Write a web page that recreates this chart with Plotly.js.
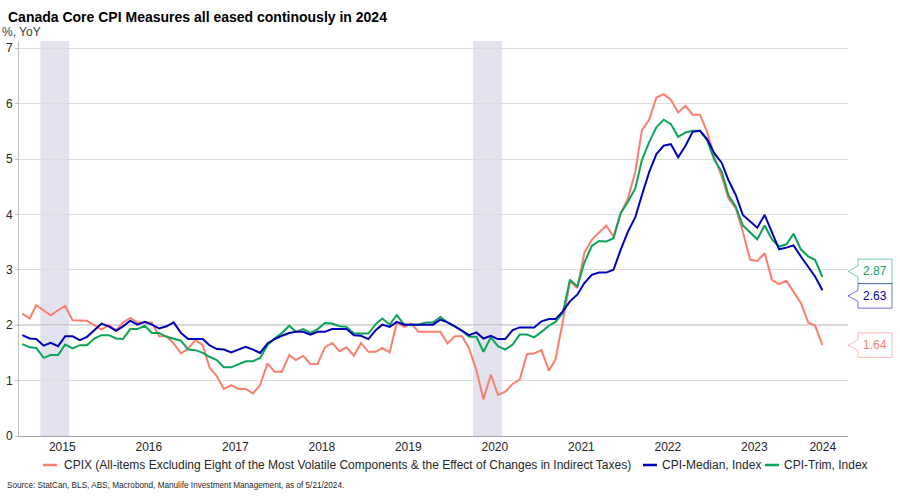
<!DOCTYPE html>
<html><head><meta charset="utf-8">
<script src="https://cdn.plot.ly/plotly-3.0.1.min.js"></script>
<style>html,body{margin:0;padding:0;background:#fff}#chart{width:900px;height:500px}</style>
</head><body><div id="chart"></div>
<script>
// ---- Data (monthly, Jan 2015 – Apr 2024, % YoY) ----
const startYear = 2015;
const startMonth = 1;

const cpix = [
  2.21, 2.12, 2.36, 2.27, 2.18, 2.27, 2.35, 2.09, 2.09, 2.08, 2.00, 1.92,
  2.00, 1.91, 2.05, 2.13, 2.05, 2.05, 2.05, 1.80, 1.80, 1.67, 1.49, 1.58,
  1.73, 1.64, 1.24, 1.08, 0.85, 0.92, 0.85, 0.85, 0.77, 0.92, 1.31, 1.16,
  1.16, 1.46, 1.37, 1.45, 1.30, 1.30, 1.60, 1.68, 1.53, 1.60, 1.45, 1.68,
  1.52, 1.52, 1.59, 1.51, 2.05, 1.97, 2.03, 1.88, 1.88, 1.88, 1.88, 1.67,
  1.80, 1.80, 1.58, 1.19, 0.66, 1.11, 0.74, 0.80, 0.94, 1.02, 1.48, 1.49,
  1.55, 1.18, 1.38, 2.07, 2.79, 2.67, 3.31, 3.54, 3.67, 3.80, 3.60, 4.02,
  4.29, 4.77, 5.52, 5.71, 6.11, 6.17, 6.07, 5.84, 5.96, 5.80, 5.80, 5.49,
  5.04, 4.68, 4.29, 4.11, 3.69, 3.18, 3.16, 3.30, 2.82, 2.74, 2.80, 2.61,
  2.40, 2.05, 1.99, 1.64
];
const cpiMedian = [
  1.82, 1.76, 1.75, 1.63, 1.68, 1.62, 1.80, 1.80, 1.73, 1.79, 1.91, 2.03,
  1.98, 1.90, 1.98, 2.08, 2.01, 2.06, 2.01, 1.94, 1.98, 2.05, 1.86, 1.75,
  1.75, 1.75, 1.64, 1.57, 1.56, 1.51, 1.56, 1.61, 1.56, 1.50, 1.67, 1.75,
  1.81, 1.86, 1.88, 1.88, 1.83, 1.88, 1.88, 1.93, 1.93, 1.93, 1.82, 1.81,
  1.75, 1.91, 2.01, 1.97, 2.06, 2.01, 2.01, 2.01, 2.01, 2.01, 2.10, 2.05,
  1.98, 1.90, 1.82, 1.87, 1.76, 1.81, 1.75, 1.75, 1.91, 1.96, 1.96, 1.96,
  2.07, 2.11, 2.11, 2.25, 2.43, 2.55, 2.76, 2.91, 2.95, 2.95, 3.00, 3.36,
  3.69, 3.95, 4.35, 4.77, 5.09, 5.24, 5.27, 5.03, 5.24, 5.49, 5.51, 5.36,
  5.10, 4.93, 4.62, 4.35, 3.99, 3.87, 3.76, 3.99, 3.69, 3.37, 3.40, 3.44,
  3.24, 3.06, 2.88, 2.63
];
const cpiTrim = [
  1.66, 1.60, 1.59, 1.41, 1.46, 1.46, 1.65, 1.58, 1.64, 1.64, 1.76, 1.82,
  1.82, 1.76, 1.75, 1.93, 1.93, 1.99, 1.86, 1.86, 1.79, 1.76, 1.72, 1.56,
  1.55, 1.50, 1.43, 1.37, 1.24, 1.24, 1.30, 1.35, 1.35, 1.41, 1.64, 1.76,
  1.86, 1.99, 1.88, 1.93, 1.86, 1.93, 2.04, 2.03, 1.98, 1.97, 1.85, 1.85,
  1.85, 2.02, 2.12, 2.01, 2.18, 2.01, 2.01, 2.01, 2.05, 2.05, 2.15, 2.05,
  1.98, 1.90, 1.79, 1.79, 1.52, 1.78, 1.62, 1.56, 1.65, 1.83, 1.83, 1.78,
  1.88, 1.99, 2.06, 2.22, 2.82, 2.70, 3.13, 3.43, 3.52, 3.51, 3.57, 4.02,
  4.23, 4.47, 4.98, 5.31, 5.57, 5.71, 5.63, 5.40, 5.48, 5.51, 5.51, 5.34,
  4.98, 4.77, 4.35, 4.14, 3.80, 3.67, 3.55, 3.80, 3.55, 3.42, 3.46, 3.65,
  3.37, 3.24, 3.18, 2.87
];

const seriesNames = [
  'CPIX (All-items Excluding Eight of the Most Volatile Components & the Effect of Changes in Indirect Taxes)',
  'CPI-Median, Index',
  'CPI-Trim, Index'
];
const yearLabels = ['2015','2016','2017','2018','2019','2020','2021','2022','2023','2024'];
const shadedPeriods = [['2015-04-01','2015-08-01'], ['2020-04-01','2020-08-01']];
const yTickValues = [0, 1, 2, 3, 4, 5, 6, 7];
const referenceLevel = 2;

const titleText = 'Canada Core CPI Measures all eased continously in 2024';
const unitText = '%, YoY';
const sourceText = 'Source: StatCan, BLS, ABS, Macrobond, Manulife Investment Management, as of 5/21/2024.';

// ---- Styling / layout ----
const colors = ['#fa7f6f', '#0000bb', '#0aa457'];
const borderColors = ['rgba(250,127,111,0.55)', 'rgba(0,0,187,0.55)', 'rgba(10,164,87,0.55)'];
const FONT = '"Liberation Sans", Arial, Helvetica, sans-serif';
const W = 900, H = 500;
const M = {l: 19, r: 52, t: 41, b: 64};
const plotW = W - M.l - M.r, plotH = H - M.t - M.b;
const xRange = ['2015-01-01', '2024-08-01'];
const yRange = [0, 7.13];

// monthly dates, plotted mid-month
const n = cpix.length;
const dates = [];
for (let i = 0; i < n; i++) {
  const m0 = startMonth - 1 + i;
  const y = startYear + Math.floor(m0 / 12);
  const m = (m0 % 12) + 1;
  dates.push(y + '-' + String(m).padStart(2, '0') + '-15');
}

// year labels centred in the visible part of each year
function toMs(s) { const p = s.split('-').map(Number); return Date.UTC(p[0], p[1]-1, p[2]); }
function msToStr(ms) { return new Date(ms).toISOString().slice(0, 19).replace('T', ' '); }
const r0 = toMs(xRange[0]), r1 = toMs(xRange[1]);
const tickVals = yearLabels.map(yl => {
  const a = Math.max(Date.UTC(+yl, 0, 1), r0);
  const b = Math.min(Date.UTC(+yl + 1, 0, 1), r1);
  return msToStr((a + b) / 2);
});

const pxToPaperX = px => (px - M.l) / plotW;
const pxToPaperY = py => (M.t + plotH - py) / plotH;

const seriesData = [cpix, cpiMedian, cpiTrim];
const drawOrder = [0, 2, 1];
const traces = drawOrder.map(k => ({
  type: 'scatter', mode: 'lines', x: dates, y: seriesData[k], name: seriesNames[k],
  line: {color: colors[k], width: 2}, hoverinfo: 'x+y'
}));

const shapes = [];
const annotations = [];

shadedPeriods.forEach(p => shapes.push({
  type: 'rect', xref: 'x', yref: 'paper', x0: p[0], x1: p[1], y0: 0, y1: 1,
  fillcolor: '#e3e3ef', line: {width: 0}, layer: 'below'
}));
shapes.push({type: 'line', xref: 'paper', yref: 'y', x0: 0, x1: 1, y0: referenceLevel, y1: referenceLevel,
  line: {color: '#7f7f7f', width: 1}, layer: 'below'});

// end-value callouts, pushed apart when they overlap
const boxH = 24.5;
const vToPy = v => M.t + plotH * (1 - (v - yRange[0]) / (yRange[1] - yRange[0]));
const lastVals = seriesData.map(s => s[s.length - 1]);
let items = lastVals.map((v, k) => ({k, v, py: vToPy(v)})).sort((a, b) => a.py - b.py);
let groups = items.map(it => ({members: [it]}));
function placeGroup(g) {
  const mean = g.members.reduce((s, m) => s + m.py, 0) / g.members.length;
  const start = mean - (g.members.length - 1) * boxH / 2;
  g.members.forEach((m, j) => m.np = start + j * boxH);
}
groups.forEach(placeGroup);
let merged = true;
while (merged) {
  merged = false;
  for (let j = 0; j < groups.length - 1; j++) {
    const a = groups[j], b = groups[j + 1];
    if (b.members[0].np - a.members[a.members.length - 1].np < boxH) {
      const g = {members: a.members.concat(b.members)};
      placeGroup(g);
      groups.splice(j, 2, g);
      merged = true; break;
    }
  }
}
items.forEach(it => {
  const d = it.np - it.py; // pixels downward
  const c = -d;
  const half = boxH / 2, notch = 5.5, x0 = 10, x1 = 44;
  const path = `M 0,${c} L ${x0},${c + notch} L ${x0},${c + half} L ${x1},${c + half} L ${x1},${c - half} L ${x0},${c - half} L ${x0},${c - notch} Z`;
  shapes.push({type: 'path', xref: 'paper', yref: 'y', xsizemode: 'pixel', ysizemode: 'pixel',
    xanchor: 1, yanchor: it.v, path, fillcolor: '#ffffff', line: {color: borderColors[it.k], width: 1}, layer: 'above'});
  annotations.push({xref: 'paper', yref: 'y', x: 1, y: it.v, xshift: 27, yshift: c,
    xanchor: 'center', yanchor: 'middle', showarrow: false, text: it.v.toFixed(2),
    font: {family: FONT, size: 12, color: colors[it.k]}});
});

// legend (manual)
const legendY = 465;
const legendItems = [
  {k: 0, sx: 43, tx: 62},
  {k: 1, sx: 643, tx: 660},
  {k: 2, sx: 765, tx: 782}
];
legendItems.forEach(li => {
  shapes.push({type: 'line', xref: 'paper', yref: 'paper',
    x0: pxToPaperX(li.sx), x1: pxToPaperX(li.sx + 14), y0: pxToPaperY(legendY), y1: pxToPaperY(legendY),
    line: {color: colors[li.k], width: 2.5}});
  annotations.push({xref: 'paper', yref: 'paper', x: pxToPaperX(li.tx), y: pxToPaperY(legendY),
    xanchor: 'left', yanchor: 'middle', showarrow: false, text: seriesNames[li.k],
    font: {family: FONT, size: 12, color: '#262626'}});
});

annotations.push({xref: 'paper', yref: 'paper', x: pxToPaperX(0), y: pxToPaperY(32), xanchor: 'left', yanchor: 'middle',
  showarrow: false, text: unitText, font: {family: FONT, size: 12, color: '#404040'}});
annotations.push({xref: 'paper', yref: 'paper', x: pxToPaperX(5), y: pxToPaperY(485), xanchor: 'left', yanchor: 'middle',
  showarrow: false, text: sourceText, font: {family: FONT, size: 8.2, color: '#262626'}});

const layout = {
  width: W, height: H, margin: M, paper_bgcolor: '#ffffff', plot_bgcolor: '#ffffff',
  showlegend: false,
  title: {text: '<b>' + titleText + '</b>', x: 8 / W, xanchor: 'left', xref: 'container',
    y: 1 - 17 / H, yanchor: 'middle', yref: 'container', font: {family: FONT, size: 14, color: '#000000'}},
  font: {family: FONT, size: 12, color: '#262626'},
  xaxis: {type: 'date', range: xRange, tickmode: 'array', tickvals: tickVals, ticktext: yearLabels,
    showgrid: false, zeroline: false, showline: true, linecolor: '#a6a6a6', linewidth: 1,
    ticks: '', tickfont: {family: FONT, size: 12, color: '#262626'}, fixedrange: true},
  yaxis: {range: yRange, tickmode: 'array', tickvals: yTickValues, showgrid: true, gridcolor: '#dcdcdc', gridwidth: 1,
    zeroline: false, showline: true, linecolor: '#bfbfbf', linewidth: 1, ticks: 'outside', ticklen: 3, tickcolor: '#bfbfbf',
    tickfont: {family: FONT, size: 12, color: '#262626'}, fixedrange: true},
  shapes, annotations
};

Plotly.newPlot('chart', traces, layout, {displayModeBar: false, staticPlot: true});
</script>
</body></html>
